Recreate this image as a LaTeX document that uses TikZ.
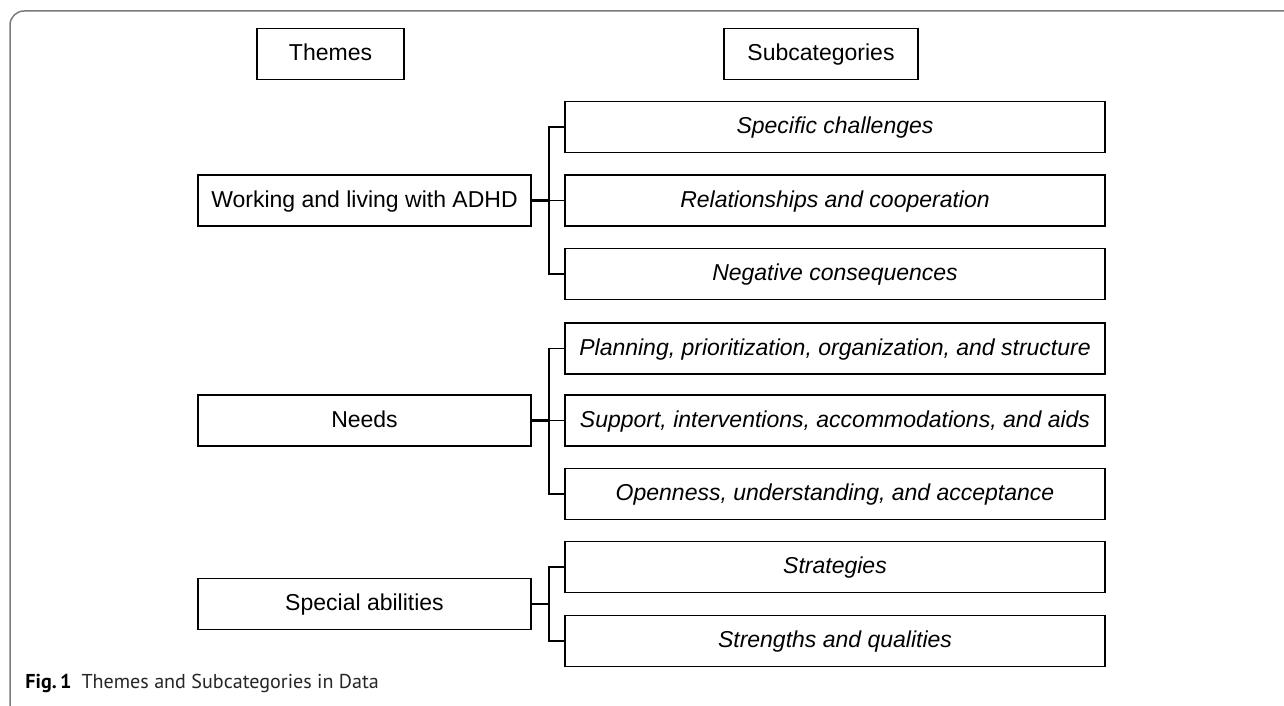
\documentclass[tikz,border=0pt]{standalone}
\usepackage{fontspec}
\setmainfont{Liberation Sans}
\newfontfamily\capfont{PT Sans}
\usetikzlibrary{positioning}

\definecolor{framegray}{HTML}{7A7A7A}
\tikzset{
  headbox/.style={rectangle,draw=black,line width=0.9pt,minimum height=25.5pt,inner sep=0pt,
    text height=8.2pt,text depth=1.5pt,font=\fontsize{11.5}{13}\selectfont},
  themebox/.style={headbox,minimum width=166.5pt},
  subbox/.style={headbox,minimum width=270pt,font=\fontsize{11.5}{13}\selectfont\itshape},
  branch/.style={line width=0.9pt},
  stem/.style={line width=1.4pt}
}

\begin{document}
\begin{tikzpicture}[x=0.5pt,y=-0.5pt]
  \useasboundingbox (0,0) rectangle (1284,706);
  % frame of the figure
  \draw[framegray,line width=0.75pt,rounded corners=7pt] (10,706) -- (10,11) -- (1284,11);

  % headings
  \node[headbox,minimum width=73.5pt] (th) at (330.5,54){Themes};
  \node[headbox,minimum width=97pt] (sc) at (821,54){Subcategories};

  % themes
  \node[themebox] (wl) at (364.5,200.5){Working and living with ADHD};
  \node[themebox] (nd) at (364.5,420.5){Needs};
  \node[themebox] (sa) at (364.5,604){Special abilities};

  % subcategories
  \node[subbox] (wl1) at (835,127){Specific challenges};
  \node[subbox] (wl2) at (835,200.5){Relationships and cooperation};
  \node[subbox] (wl3) at (835,274){Negative consequences};
  \node[subbox] (nd1) at (835,348.5){Planning, prioritization, organization, and structure};
  \node[subbox] (nd2) at (835,420.5){Support, interventions, accommodations, and aids};
  \node[subbox] (nd3) at (835,494){Openness, understanding, and acceptance};
  \node[subbox] (sa1) at (835,567){Strategies};
  \node[subbox] (sa2) at (835,641){Strengths and qualities};

  % brackets
  \coordinate (bwl) at (549,200.5);
  \coordinate (bnd) at (549,420.5);
  \coordinate (bsa) at (549,604);
     \draw[stem] (wl.east) -- (bwl);
     \draw[branch] (wl1.west) -| (bwl) |- (wl3.west);
     \draw[branch] (bwl) -- (wl2.west);
     \draw[stem] (nd.east) -- (bnd);
     \draw[branch] (nd1.west) -| (bnd) |- (nd3.west);
     \draw[branch] (bnd) -- (nd2.west);
     \draw[stem] (sa.east) -- (bsa);
     \draw[branch] (sa1.west) -| (bsa) |- (sa2.west);

  % caption
  \node[anchor=base west,inner sep=0pt,font=\capfont\fontsize{10.05}{12}\selectfont,text=black!85] (cap) at (25,688){\textbf{\color{black}Fig.\,1}\enspace Themes and Subcategories in Data};
\end{tikzpicture}
\end{document}
